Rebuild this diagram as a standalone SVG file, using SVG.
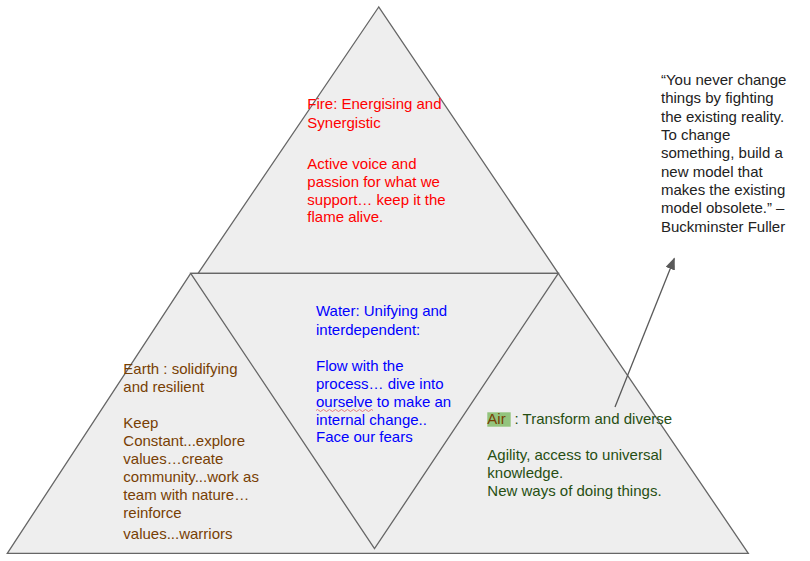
<svg xmlns="http://www.w3.org/2000/svg" width="810" height="561" viewBox="0 0 810 561">
<defs>
<style>
.tri{fill:#eeeeee;stroke:#666666;stroke-width:1.3;stroke-linejoin:miter}
text{font-family:"Liberation Sans",Arial,sans-serif;font-size:15px}
.fire{fill:#ff0000}
.water{fill:#0000ff}
.earth{fill:#783f04}
.air{fill:#274e13}
.quote{fill:#222222}
</style>
<marker id="ah" viewBox="0 0 12 10" refX="11" refY="5" markerWidth="12" markerHeight="10" orient="auto" markerUnits="userSpaceOnUse">
<path d="M0,0 L12,5 L0,10 z" fill="#595959"/>
</marker>
</defs>
<rect width="810" height="561" fill="#ffffff"/>
<g id="earth-air-base">
<polygon class="tri" points="190.7,273.3 7.3,553.3 748.3,553.3 558.3,273.3"/>
</g>
<g id="earth">
<text class="earth" x="123.3"><tspan x="123.3" y="374">Earth : solidifying</tspan><tspan x="123.3" y="392">and resilient</tspan><tspan x="123.3" y="428">Keep</tspan><tspan x="123.3" y="446">Constant...explore</tspan><tspan x="123.3" y="464">values…create</tspan><tspan x="123.3" y="482">community...work as</tspan><tspan x="123.3" y="500">team with nature…</tspan><tspan x="123.3" y="518">reinforce</tspan><tspan x="123.3" y="539">values...warriors</tspan></text>
</g>
<g id="fire">
<polygon class="tri" points="378.7,7 198.1,273.3 558.3,273.3"/>
<text class="fire"><tspan x="307.3" y="109">Fire: Energising and</tspan><tspan x="307.3" y="127.5">Synergistic</tspan><tspan x="307.3" y="169">Active voice and</tspan><tspan x="307.3" y="187">passion for what we</tspan><tspan x="307.3" y="205">support… keep it the</tspan><tspan x="307.3" y="222">flame alive.</tspan></text>
</g>
<g id="water">
<polygon class="tri" points="190.7,273.3 558.3,273.3 374.5,548.7"/>
<text class="water"><tspan x="316" y="316">Water: Unifying and</tspan><tspan x="316" y="334.5">interdependent:</tspan><tspan x="316" y="371">Flow with the</tspan><tspan x="316" y="389">process… dive into</tspan><tspan x="316" y="407">ourselve to make an</tspan><tspan x="316" y="425">internal change..</tspan><tspan x="316" y="442">Face our fears</tspan></text>
<path d="M316,410.5 q1.5,-2 3,0 t3,0 t3,0 t3,0 t3,0 t3,0 t3,0 t3,0 t3,0 t3,0 t3,0 t3,0 t3,0 t3,0 t3,0 t3,0 t3,0 t3,0 t3,0" fill="none" stroke="#e06060" stroke-width="0.8"/>
</g>
<g id="air">
<rect x="487.3" y="412.3" width="23.4" height="14.4" fill="#93c47d"/>
<text x="487.3" y="423.5"><tspan class="earth" x="487.3">Air</tspan><tspan class="air" x="514.5">: Transform and diverse</tspan></text>
<text class="air"><tspan x="487.3" y="460">Agility, access to universal</tspan><tspan x="487.3" y="478">knowledge.</tspan><tspan x="487.3" y="496">New ways of doing things.</tspan></text>
</g>
<g id="quote">
<text class="quote"><tspan x="661" y="85">“You never change</tspan><tspan x="661" y="103.3">things by fighting</tspan><tspan x="661" y="121.6">the existing reality.</tspan><tspan x="661" y="140">To change</tspan><tspan x="661" y="158.3">something, build a</tspan><tspan x="661" y="176.6">new model that</tspan><tspan x="661" y="195">makes the existing</tspan><tspan x="661" y="213.3">model obsolete.” –</tspan><tspan x="661" y="231.6">Buckminster Fuller</tspan></text>
</g>
<g id="connectors">
<line x1="615" y1="407" x2="674.3" y2="258.5" stroke="#595959" stroke-width="1.3" marker-end="url(#ah)"/>
</g>
</svg>
